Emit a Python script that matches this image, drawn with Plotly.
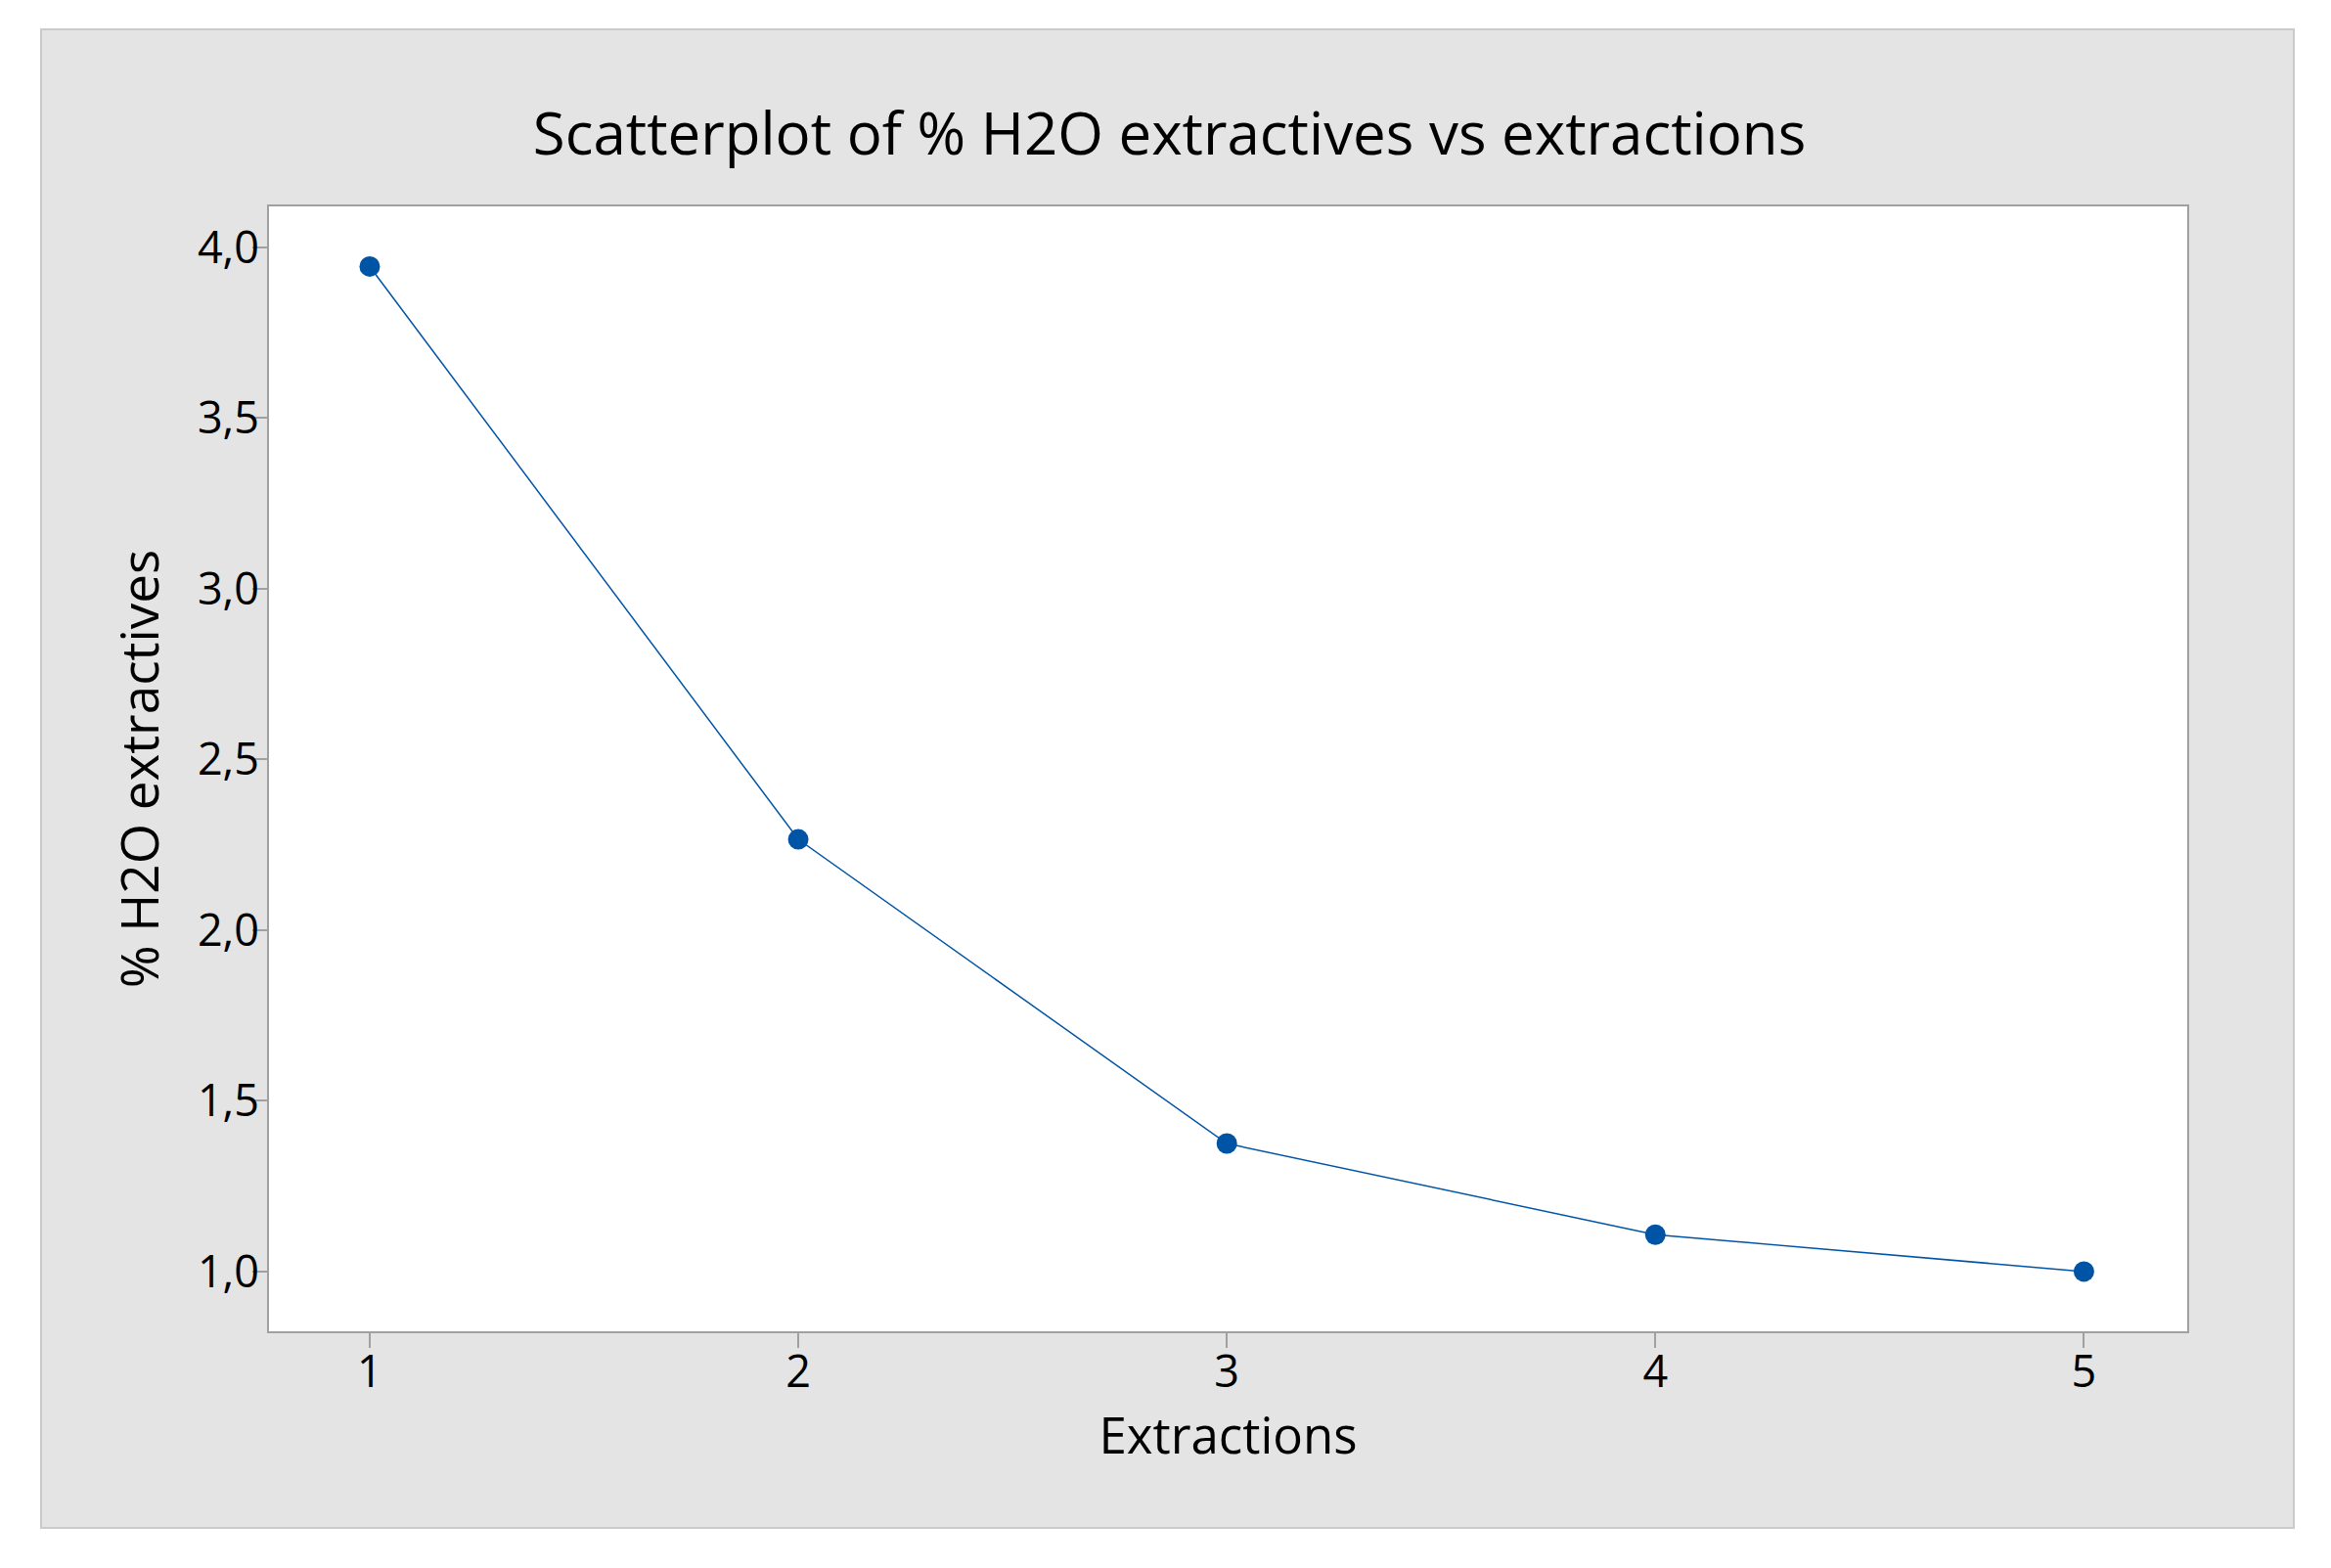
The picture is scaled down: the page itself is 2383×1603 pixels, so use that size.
import plotly.graph_objects as go

# values
extractions = [1, 2, 3, 4, 5]
h2o_extractives = [3.944, 2.266, 1.375, 1.108, 1.0]
y_ticks = [1.0, 1.5, 2.0, 2.5, 3.0, 3.5, 4.0]
x_ticks = [1, 2, 3, 4, 5]

# the page body adds an 8px offset, so the figure is 8px smaller than the window
OFF = 8
W, H = 2383 - OFF, 1603 - OFF
ML, MT = 275 - OFF, 211 - OFF
MR = W - (2236 - OFF)
MB = H - (1361 - OFF)
pw, ph = W - ML - MR, H - MT - MB

BLUE = "#0054A6"
FONT = "Open Sans"


def px_to_paper_x(px):
    return (px - OFF - ML) / pw


def px_to_paper_y(py):
    return (H - MB - (py - OFF)) / ph


fig = go.Figure()
fig.add_trace(
    go.Scatter(
        x=extractions,
        y=h2o_extractives,
        mode="lines+markers",
        line=dict(color=BLUE, width=1.5),
        marker=dict(color=BLUE, size=21),
        showlegend=False,
    )
)

axis_common = dict(
    showline=True,
    linecolor="#a0a0a0",
    linewidth=2,
    mirror=True,
    ticks="outside",
    ticklen=15,
    tickwidth=1.5,
    tickcolor="#a0a0a0",
    showgrid=False,
    zeroline=False,
    tickfont=dict(family=FONT, size=45, color="black"),
)

fig.update_layout(
    width=W,
    height=H,
    margin=dict(l=ML, r=MR, t=MT, b=MB),
    paper_bgcolor="white",
    plot_bgcolor="white",
    separators=", ",
    title=dict(
        text="Scatterplot of % H2O extractives vs extractions",
        font=dict(family=FONT, size=60, color="black"),
        x=0.5,
        xanchor="center",
        y=1 - (137 - OFF) / H,
        yanchor="middle",
    ),
    xaxis=dict(
        **axis_common,
        range=[0.765, 5.241],
        tickvals=x_ticks,
        ticklabelstandoff=-14,
        title=dict(text="Extractions", font=dict(family=FONT, size=51, color="black"), standoff=14),
    ),
    yaxis=dict(
        **axis_common,
        range=[0.825, 4.12],
        tickvals=y_ticks,
        tickformat=".1f",
        ticklabelstandoff=-16,
        title=dict(text="% H2O extractives", font=dict(family=FONT, size=53, color="black"), standoff=22),
    ),
    shapes=[
        dict(
            type="rect",
            xref="paper",
            yref="paper",
            x0=px_to_paper_x(42),
            x1=px_to_paper_x(2345),
            y0=px_to_paper_y(1562),
            y1=px_to_paper_y(30),
            fillcolor="#e4e4e4",
            line=dict(color="#cacaca", width=2),
            layer="below",
        ),
        dict(
            type="rect",
            xref="paper",
            yref="paper",
            x0=0,
            x1=1,
            y0=0,
            y1=1,
            fillcolor="white",
            line=dict(width=0),
            layer="below",
        ),
    ],
)

fig.write_html("out.html")
